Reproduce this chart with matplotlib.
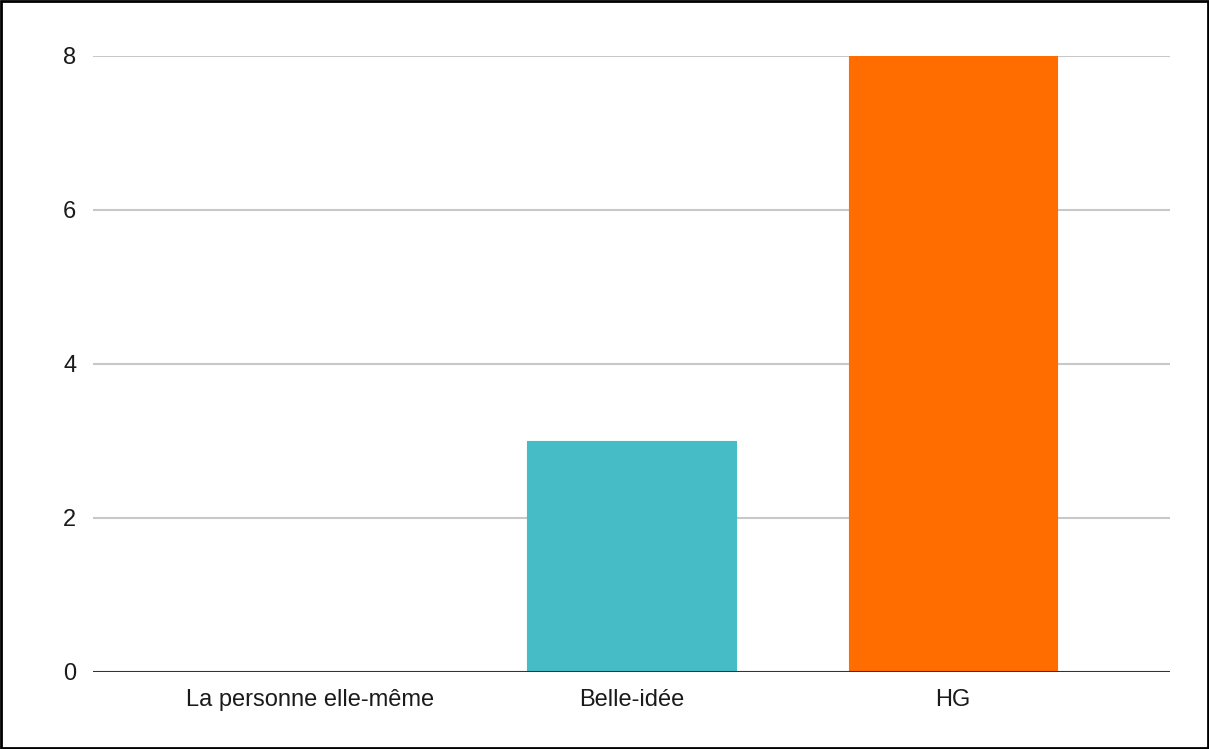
import matplotlib
matplotlib.use("Agg")
import matplotlib.pyplot as plt
from matplotlib.patches import Rectangle

categories = ["La personne elle-même", "Belle-idée", "HG"]
values = [0, 3, 8]
colors = ["#46BDC6", "#46BDC6", "#FF6D01"]
yticks = [0, 2, 4, 6, 8]

plt.rcParams["font.family"] = ["Liberation Sans", "DejaVu Sans"]

fig = plt.figure(figsize=(12.09, 7.49), dpi=100)
ax = fig.add_axes([93 / 1209, 1 - 672 / 749, (1170 - 93) / 1209, (672 - 56) / 749])

x = list(range(len(categories)))
ax.bar(x, values, width=0.648, color=colors, zorder=3,
       edgecolor=colors, linewidth=0.8, joinstyle="round")

ax.set_xlim(-0.677, 2.677)
ax.set_ylim(0, 8)
ax.set_yticks(yticks)
ax.set_xticks(x)
ax.set_xticklabels(categories)
ax.grid(axis="y", color="#c8c8c8", linewidth=1.5, zorder=0)
ax.axhline(0, color="#333333", linewidth=2.2, zorder=4)

for s in ax.spines.values():
    s.set_visible(False)
ax.tick_params(axis="both", length=0, labelsize=17, colors="#1a1a1a")
ax.tick_params(axis="y", pad=12)
ax.tick_params(axis="x", pad=12)

fig.patches.append(Rectangle((0.001, 0.001), 0.998, 0.997, transform=fig.transFigure,
                             fill=False, edgecolor="black", linewidth=2))

fig.savefig("out.png", dpi=100)
